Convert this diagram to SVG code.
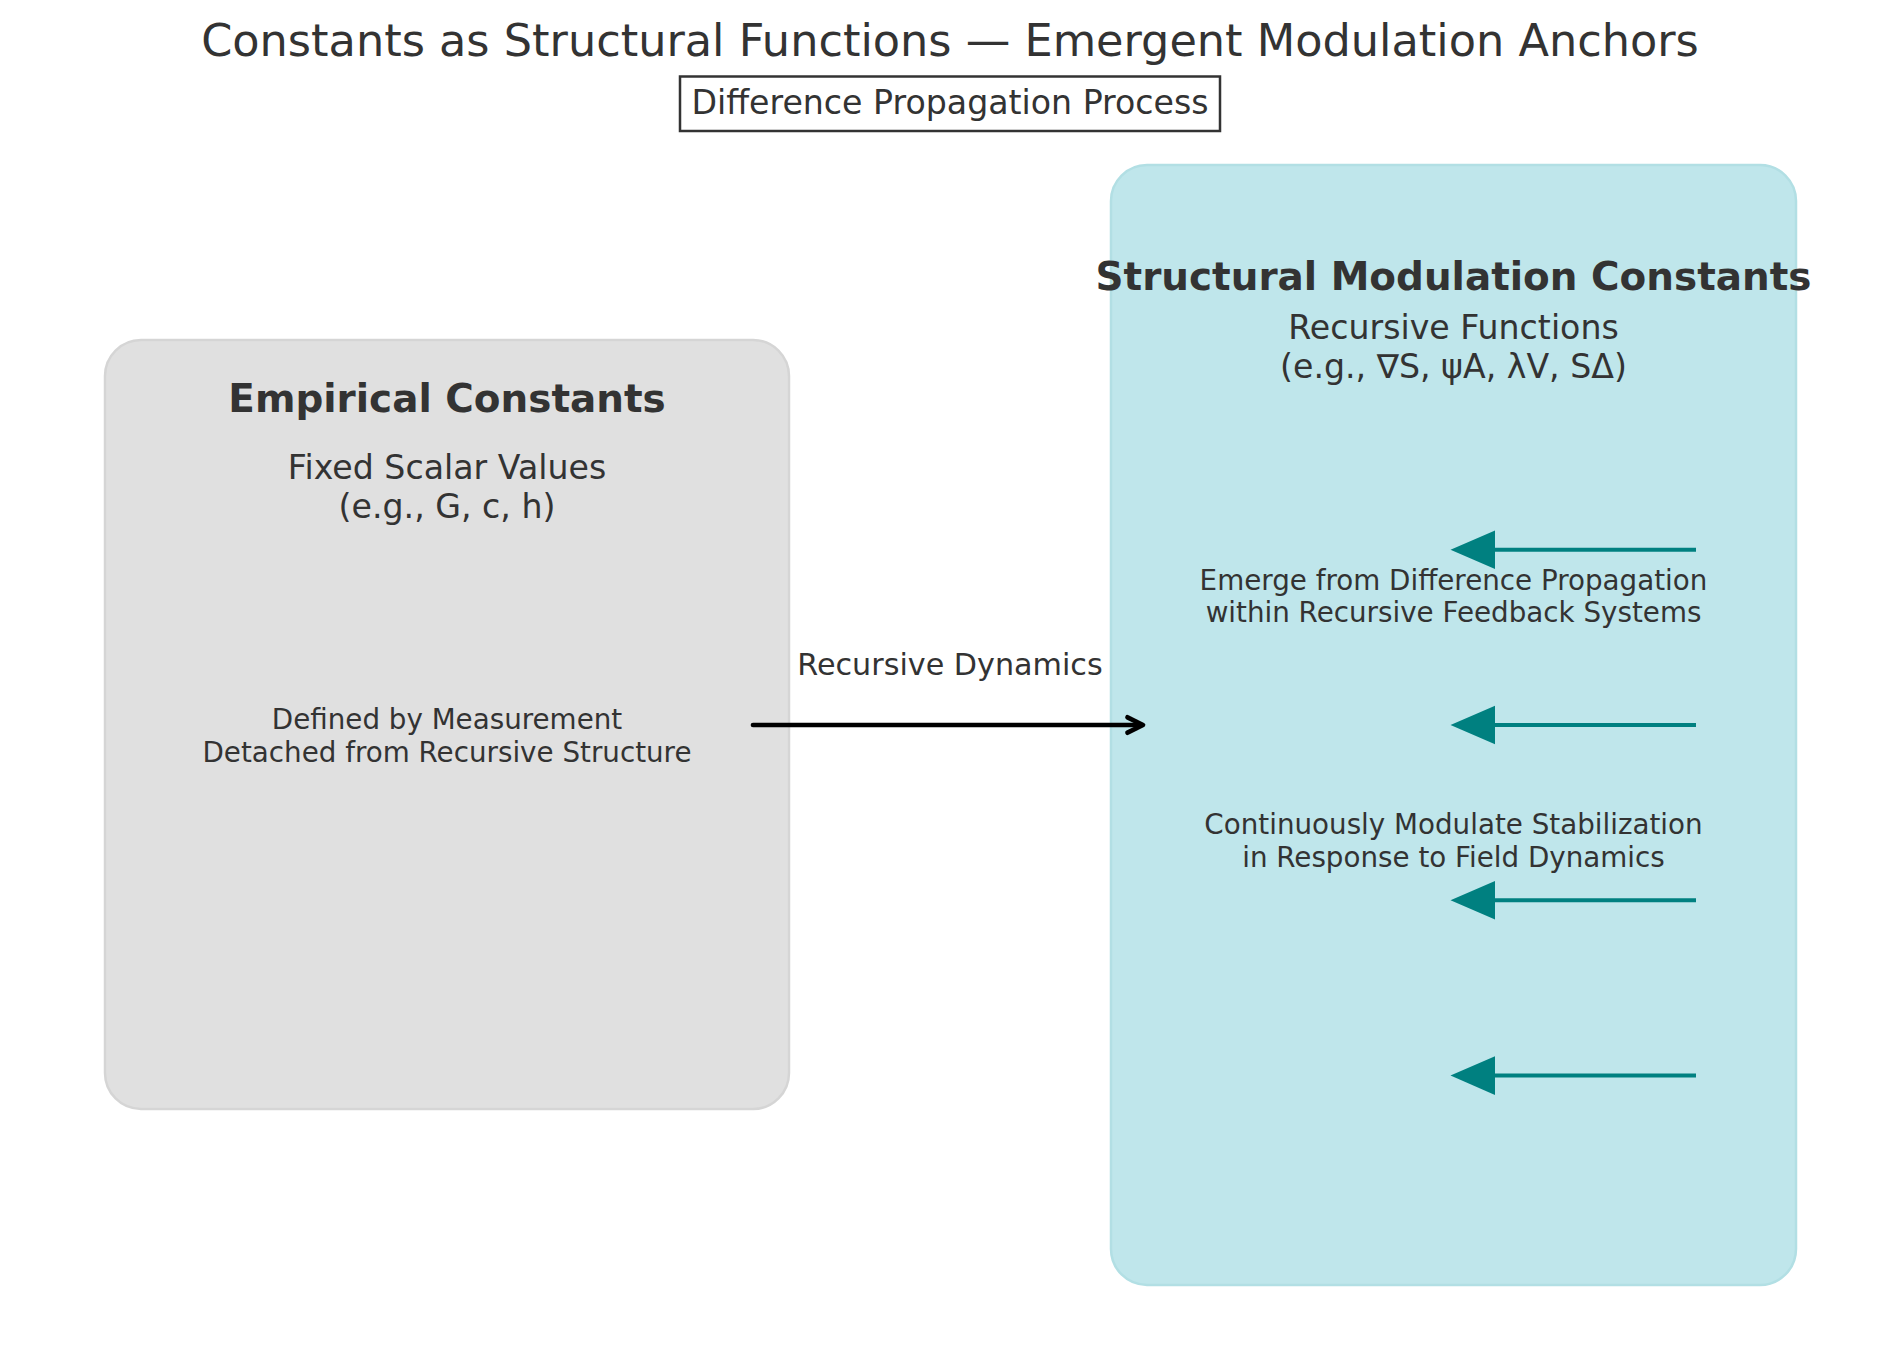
<svg xmlns="http://www.w3.org/2000/svg" width="1900" height="1361" viewBox="0 0 1900 1361">
  <style>
    text { font-family: "DejaVu Sans", "Liberation Sans", sans-serif; fill: #333333; text-anchor: middle; }
    .title { font-size: 44.6px; }
    .sub { font-size: 33.2px; }
    .head { font-size: 38.9px; font-weight: bold; }
    .body { font-size: 33.2px; }
    .small { font-size: 27.75px; }
    .lbl { font-size: 30.2px; }
    .teal { stroke: #008080; stroke-width: 4; fill: none; }
  </style>
  <rect width="1900" height="1361" fill="#ffffff"/>

  <g id="title">
    <text class="title" x="950" y="55.5">Constants as Structural Functions — Emergent Modulation Anchors</text>
  </g>
  <g id="subtitle">
    <rect x="680" y="76.5" width="540" height="54.5" fill="#ffffff" stroke="#333333" stroke-width="2.5"/>
    <text class="sub" x="950" y="113.5">Difference Propagation Process</text>
  </g>

  <g id="empirical">
    <rect x="105" y="340" width="684" height="769" rx="36" ry="36" fill="#e0e0e0" stroke="#d5d5d5" stroke-width="2.5"/>
    <text class="head" x="447" y="412">Empirical Constants</text>
    <text class="body" x="447" y="478.5">Fixed Scalar Values</text>
    <text class="body" x="447" y="517.5">(e.g., G, c, h)</text>
    <text class="small" x="447" y="729">Defined by Measurement</text>
    <text class="small" x="447" y="761.5">Detached from Recursive Structure</text>
  </g>

  <g id="structural">
    <rect x="1111" y="165" width="685" height="1120" rx="36" ry="36" fill="#bfe6eb" stroke="#b2dfe4" stroke-width="2.5"/>
    <text class="head" x="1453.5" y="289.5">Structural Modulation Constants</text>
    <text class="body" x="1453.5" y="338.5">Recursive Functions</text>
    <text class="body" x="1453.5" y="377.5">(e.g., ∇S, ψA, λV, SΔ)</text>
    <text class="small" x="1453.5" y="589.5">Emerge from Difference Propagation</text>
    <text class="small" x="1453.5" y="622">within Recursive Feedback Systems</text>
    <text class="small" x="1453.5" y="834">Continuously Modulate Stabilization</text>
    <text class="small" x="1453.5" y="867">in Response to Field Dynamics</text>
  </g>

  <g id="connectors">
    <path d="M753,725 L1142,725" stroke="#000000" stroke-width="4.7" stroke-linecap="round" fill="none"/>
    <path d="M1127.5,717.3 L1143,725 L1127.5,732.7" stroke="#000000" stroke-width="4.7" stroke-linecap="round" stroke-linejoin="round" fill="none"/>
    <text class="lbl" x="950" y="674.5">Recursive Dynamics</text>

    <line class="teal" x1="1696" y1="549.7" x2="1494" y2="549.7"/>
    <path d="M1450.5,549.7 L1495,530.4 L1495,569 Z" fill="#008080"/>
    <line class="teal" x1="1696" y1="725" x2="1494" y2="725"/>
    <path d="M1450.5,725 L1495,705.7 L1495,744.3 Z" fill="#008080"/>
    <line class="teal" x1="1696" y1="900.3" x2="1494" y2="900.3"/>
    <path d="M1450.5,900.3 L1495,881 L1495,919.6 Z" fill="#008080"/>
    <line class="teal" x1="1696" y1="1075.6" x2="1494" y2="1075.6"/>
    <path d="M1450.5,1075.6 L1495,1056.3 L1495,1094.9 Z" fill="#008080"/>
  </g>
</svg>
